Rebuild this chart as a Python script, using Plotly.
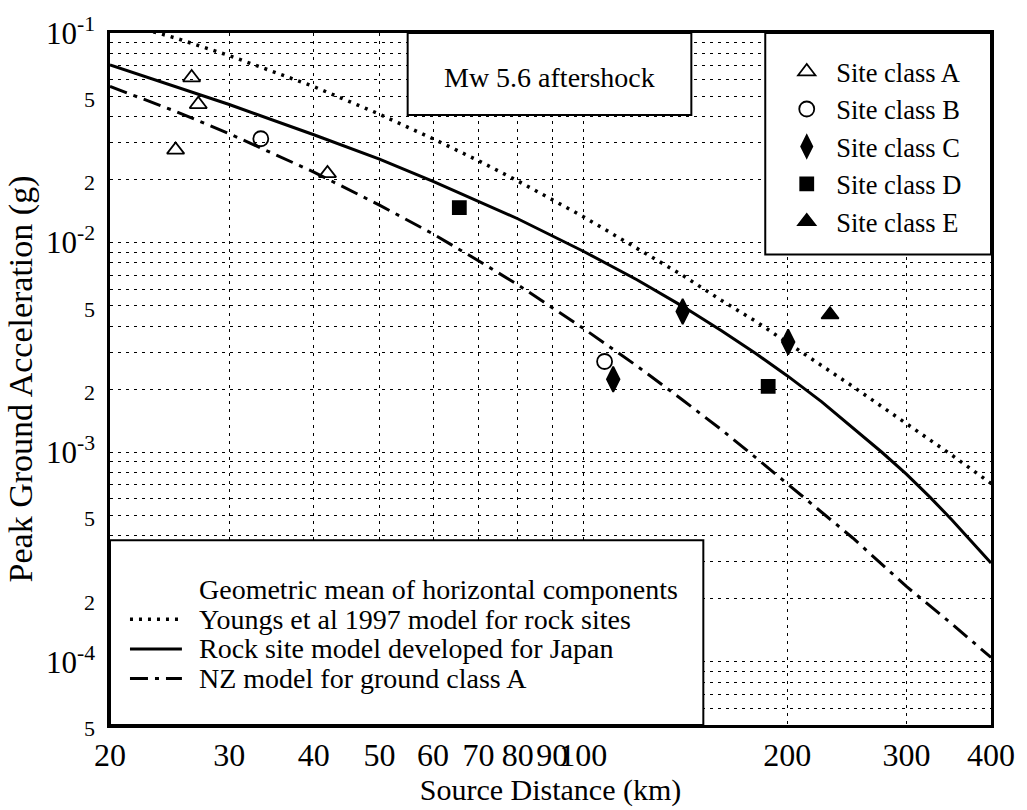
import plotly.graph_objects as go

# ---- attenuation model curves: distance (km) vs PGA (g) ----
youngs_r = [20, 25, 30, 40, 50, 60, 70, 80, 100, 120, 140, 160, 180, 200, 250, 300, 350, 400]
youngs_pga = [0.116, 0.0946, 0.078, 0.0555, 0.041, 0.0313, 0.0246, 0.0197, 0.0133,
              0.0094, 0.0070, 0.0053, 0.0042, 0.00334, 0.00206, 0.00137, 0.00097, 0.00071]

japan_r = [20, 25, 30, 40, 45, 50, 60, 70, 80, 100, 120, 140, 160, 180, 200, 225,
           250, 276, 300, 325, 350, 375, 400]
japan_pga = [0.0705, 0.0557, 0.0456, 0.0327, 0.0285, 0.0250, 0.0196, 0.0158, 0.0130,
             0.0091, 0.00665, 0.00498, 0.0038, 0.00295, 0.00232, 0.00174, 0.00131,
             0.00100, 0.000787, 0.000611, 0.000477, 0.000375, 0.000296]

nz_r = [20, 25, 30, 40, 50, 60, 70, 80, 100, 120, 140, 160, 180, 200, 250, 300, 350, 400]
nz_pga = [0.0556, 0.0423, 0.0331, 0.0217, 0.0151, 0.0110, 0.0082, 0.0063, 0.0039,
          0.00258, 0.00178, 0.00128, 0.00094, 0.00071, 0.00039, 0.000229, 0.000152,
          0.000105]

# ---- recorded peak ground accelerations by site class ----
class_a_r = [26.4, 27.0, 25.0, 41.9]
class_a_pga = [0.0613, 0.0457, 0.0277, 0.0214]
class_b_r = [33.4, 107.5]
class_b_pga = [0.0313, 0.00271]
class_c_r = [140.2, 110.7, 200.7]
class_c_pga = [0.00469, 0.00223, 0.00336]
class_d_r = [65.6, 187.5]
class_d_pga = [0.0147, 0.00206]
class_e_r = [231.4]
class_e_pga = [0.00453]

site_names = ["Site class A", "Site class B", "Site class C", "Site class D", "Site class E"]
model_names = ["Youngs et al 1997 model for rock sites",
               "Rock site model developed for Japan",
               "NZ model for ground class A"]
legend_header = "Geometric mean of horizontal components"
title_text = "Mw 5.6 aftershock"

# ---- axis ticks ----
x_ticks = [20, 30, 40, 50, 60, 70, 80, 90, 100, 200, 300, 400]
x_tick_text = ["20", "30", "40", "50", "60", "70", "80", "90", "100", "200", "300", "400"]

y_grid = [5e-5, 6e-5, 7e-5, 8e-5, 9e-5,
          1e-4, 2e-4, 3e-4, 4e-4, 5e-4, 6e-4, 7e-4, 8e-4, 9e-4,
          1e-3, 2e-3, 3e-3, 4e-3, 5e-3, 6e-3, 7e-3, 8e-3, 9e-3,
          1e-2, 2e-2, 3e-2, 4e-2, 5e-2, 6e-2, 7e-2, 8e-2, 9e-2, 1e-1]
MINOR = "<span style='font-size:22px'>%s</span>"
y_labels = {5e-5: MINOR % "5", 1e-4: "10<sup>-4</sup>", 2e-4: MINOR % "2",
            5e-4: MINOR % "5", 1e-3: "10<sup>-3</sup>", 2e-3: MINOR % "2",
            5e-3: MINOR % "5", 1e-2: "10<sup>-2</sup>", 2e-2: MINOR % "2",
            5e-2: MINOR % "5", 1e-1: "10<sup>-1</sup>"}
y_tick_text = [y_labels.get(v, "") for v in y_grid]

FONT = "Liberation Serif, Times New Roman, serif"
BLACK = "black"

fig = go.Figure()

# model curves
youngs_dash = "3px,6px"
nz_dash = "18px,7px,4px,7px"
fig.add_trace(go.Scatter(x=youngs_r, y=youngs_pga, mode="lines", name=model_names[0],
                         line=dict(color=BLACK, width=3.5, dash=youngs_dash),
                         showlegend=False))
fig.add_trace(go.Scatter(x=japan_r, y=japan_pga, mode="lines", name=model_names[1],
                         line=dict(color=BLACK, width=3), showlegend=False))
fig.add_trace(go.Scatter(x=nz_r, y=nz_pga, mode="lines", name=model_names[2],
                         line=dict(color=BLACK, width=3, dash=nz_dash),
                         showlegend=False))

# recorded data
site_sets = [
    (class_a_r, class_a_pga, "triangle-up-open", 15),
    (class_b_r, class_b_pga, "circle-open", 15),
    (class_c_r, class_c_pga, "diamond-tall", 18),
    (class_d_r, class_d_pga, "square", 13),
    (class_e_r, class_e_pga, "triangle-up", 15),
]
for name, (xs, ys, sym, size) in zip(site_names, site_sets):
    fig.add_trace(go.Scatter(
        x=xs, y=ys, mode="markers", name=name,
        marker=dict(symbol=sym, size=size, color=BLACK,
                    line=dict(color=BLACK, width=1.8)),
    ))

# plot area in pixels: x 110..992, y 25..725
L, R, T, B = 110, 992, 25, 725


def px(xp):
    return (xp - L) / (R - L)


def py(yp):
    return (B - yp) / (B - T)


shapes = []
annotations = []

# title box
shapes.append(dict(type="rect", xref="paper", yref="paper",
                   x0=px(408), x1=px(692), y0=py(108), y1=1,
                   line=dict(color=BLACK, width=2), fillcolor="white", layer="above"))
annotations.append(dict(text=title_text, xref="paper", yref="paper",
                        x=px(550), y=py(70), xanchor="center", yanchor="middle",
                        showarrow=False, font=dict(family=FONT, size=28, color=BLACK)))

# site-class legend box
shapes.append(dict(type="rect", xref="paper", yref="paper",
                   x0=px(766), x1=1, y0=py(249), y1=1,
                   line=dict(color=BLACK, width=2), fillcolor="white", layer="above"))

# model legend box
shapes.append(dict(type="rect", xref="paper", yref="paper",
                   x0=0, x1=px(704), y0=0, y1=py(538),
                   line=dict(color=BLACK, width=2), fillcolor="white", layer="above"))
annotations.append(dict(text=legend_header, xref="paper", yref="paper",
                        x=px(197), y=py(588), xanchor="left", yanchor="middle",
                        showarrow=False, font=dict(family=FONT, size=28, color=BLACK)))
key_styles = [dict(width=3.5, dash=youngs_dash), dict(width=3, dash="solid"),
              dict(width=3, dash=nz_dash)]
for i, (label, style) in enumerate(zip(model_names, key_styles)):
    yrow = 618 + 30 * i
    shapes.append(dict(type="line", xref="paper", yref="paper",
                       x0=px(130), x1=px(182), y0=py(yrow), y1=py(yrow),
                       line=dict(color=BLACK, **style), layer="above"))
    annotations.append(dict(text=label, xref="paper", yref="paper",
                            x=px(197), y=py(yrow), xanchor="left", yanchor="middle",
                            showarrow=False, font=dict(family=FONT, size=28, color=BLACK)))

axis_common = dict(
    type="log", showgrid=True, gridcolor="black", gridwidth=1, griddash="3px,5px",
    showline=True, linecolor=BLACK, linewidth=2.5, mirror=True, ticks="",
    zeroline=False, tickmode="array", tickangle=0,
)

fig.update_layout(
    width=1027, height=810,
    margin=dict(l=L, r=1027 - R, t=T, b=810 - B),
    paper_bgcolor="white", plot_bgcolor="white",
    font=dict(family=FONT, color=BLACK),
    xaxis=dict(axis_common, range=[1.30103, 2.60206], tickvals=x_ticks,
               ticktext=x_tick_text,
               tickfont=dict(family=FONT, size=32, color=BLACK),
               title=dict(text="Source Distance (km)",
                          font=dict(family=FONT, size=30, color=BLACK), standoff=0)),
    yaxis=dict(axis_common, range=[-4.30103, -1], tickvals=y_grid,
               ticktext=y_tick_text, ticklabelstandoff=6,
               tickfont=dict(family=FONT, size=31, color=BLACK),
               title=dict(text="Peak Ground Acceleration (g)",
                          font=dict(family=FONT, size=34, color=BLACK), standoff=4)),
    legend=dict(x=px(778), y=py(40), xanchor="left", yanchor="top",
                bgcolor="rgba(0,0,0,0)", borderwidth=0,
                font=dict(family=FONT, size=26.5, color=BLACK),
                itemsizing="trace", itemwidth=49, tracegroupgap=0),
    shapes=shapes,
    annotations=annotations,
)

fig.write_html("out.html")
